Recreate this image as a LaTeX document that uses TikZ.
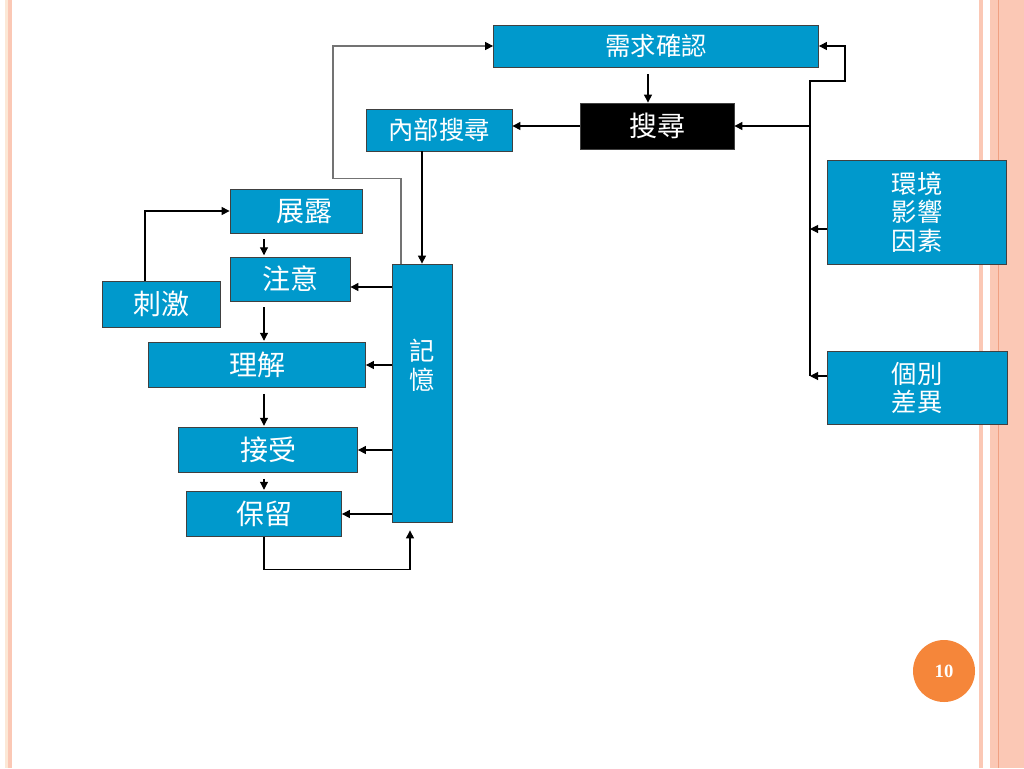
\documentclass[tikz,border=0pt]{standalone}
\usepackage{fontspec}
\newfontfamily\cjk{Noto Sans CJK TC}
\newfontfamily\pgfont{Liberation Serif}
\usetikzlibrary{arrows.meta}
\definecolor{boxblue}{RGB}{0,153,204}
\definecolor{salmon}{RGB}{251,200,181}
\definecolor{salmondark}{RGB}{240,160,130}
\definecolor{cream}{RGB}{252,232,214}
\definecolor{pgorange}{RGB}{245,134,58}
\begin{document}
\begin{tikzpicture}[x=0.75pt,y=-0.75pt,
		box/.style={draw=black!75,line width=0.6pt,fill=boxblue,text=white,inner sep=0pt,align=center,
			font=\cjk\fontsize{21}{25}\selectfont},
		sbox/.style={box,font=\cjk\fontsize{19}{21.5}\selectfont},
		arr/.style={line width=0.8pt,-{Triangle[length=6pt,width=6pt,color=black]}}]
		\useasboundingbox (0,0) rectangle (1024,768);
		% border stripes
		\fill[cream] (5,0) rectangle (8,768);
		\fill[salmon] (8,0) rectangle (12,768);
		\fill[salmon] (979,0) rectangle (983,768);
		\fill[salmon] (990,0) rectangle (1024,768);
		\draw[salmondark,line width=0.6pt] (998,0) -- (998,768);
		% boxes
		\node[sbox,minimum width=243.75pt,minimum height=31.5pt] (xuqiu) at (656,46) {需求確認};
		\node[box,fill=black,minimum width=115.5pt,minimum height=34.5pt] (sou) at (657,126) {搜尋};
		\node[sbox,minimum width=109.5pt,minimum height=31.5pt] (nbss) at (439,130) {內部搜尋};
		\node[box,minimum width=99pt,minimum height=33pt] (zhanlu) at (296,211) {\hspace{12pt}展露};
		\node[box,minimum width=90pt,minimum height=33pt] (zhuyi) at (290,279) {注意};
		\node[box,minimum width=88.5pt,minimum height=34.5pt] (ciji) at (161,304) {刺激};
		\node[box,minimum width=162.75pt,minimum height=33.75pt] (lijie) at (257,365) {理解};
		\node[box,minimum width=134.25pt,minimum height=33.75pt] (jieshou) at (268,450) {接受};
		\node[box,minimum width=116.25pt,minimum height=33.75pt] (baoliu) at (264,514) {保留};
		\node[sbox,minimum width=45pt,minimum height=193.5pt] (jiyi) at (422,393) {記\\憶\\~\\~};
		\node[sbox,minimum width=134.25pt,minimum height=78pt] (env) at (917,212) {環境\\影響\\因素};
		\node[sbox,minimum width=135pt,minimum height=54.75pt] (ind) at (917,388) {個別\\差異};
		\node[circle,fill=pgorange,minimum size=46.5pt,inner sep=0pt,text=white,
			font=\pgfont\bfseries\fontsize{14}{16}\selectfont] (pg) at (944,671) {10};
		% right bus
		\coordinate (busT) at (810,81);
		\coordinate (busE) at (810,229);
		\coordinate (busB) at (810,376);
		\draw[arr] (busB) -- (busT) -- ++(35,0) |- (xuqiu.east);
		\draw[arr] (busT |- sou) -- (sou.east);
		\draw[arr] (env.west |- busE) -- (busE);
		\draw[arr] (ind.west |- busB) -- (busB);
		% search
		\draw[arr,shorten <=5pt] ([xshift=-6pt]xuqiu.south) -- ([xshift=-6pt]xuqiu.south |- sou.north);
		\draw[arr] (sou.west) -- (sou.west -| nbss.east);
		\draw[arr] (nbss.south -| jiyi) -- (jiyi.north);
		\draw[arr,draw=black!55] ([xshift=-15.75pt]jiyi.north) -- ++(0,-85) -- ++(-68,0) |- (xuqiu.west);
		% left column
		\draw[arr] ([xshift=-12pt]ciji.north) |- (zhanlu.west);
		\draw[arr,shorten <=4.5pt,shorten >=1pt] (zhanlu.south -| baoliu) -- (zhuyi.north -| baoliu);
		\draw[arr,shorten <=4.5pt,shorten >=1pt] (zhuyi.south -| baoliu) -- (lijie.north -| baoliu);
		\draw[arr,shorten <=4.5pt,shorten >=1pt] (lijie.south -| baoliu) -- (jieshou.north -| baoliu);
		\draw[arr,shorten <=4.5pt,shorten >=1pt] (jieshou.south -| baoliu) -- (baoliu.north);
		% memory
		\draw[arr] ([yshift=-6pt]zhuyi.east -| jiyi.west) -- ([yshift=-6pt]zhuyi.east);
		\draw[arr] (lijie.east -| jiyi.west) -- (lijie.east);
		\draw[arr] (jieshou.east -| jiyi.west) -- (jieshou.east);
		\draw[arr] (baoliu.east -| jiyi.west) -- (baoliu.east);
		\draw[arr,shorten >=6pt] (baoliu.south) -- ++(0,33) -| ([xshift=-9pt]jiyi.south);
	\end{tikzpicture}
\end{document}
